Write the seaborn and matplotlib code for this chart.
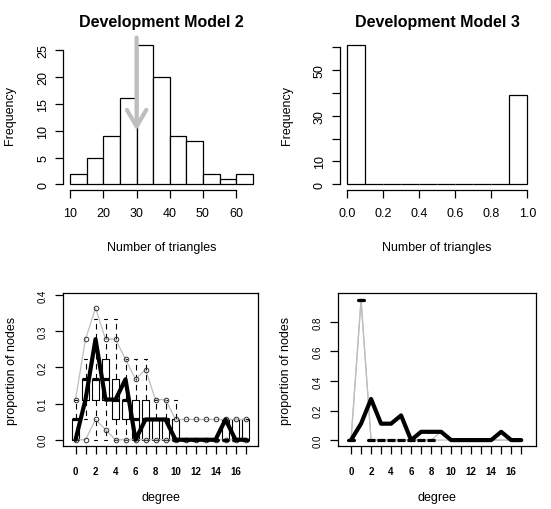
import seaborn as sns
import matplotlib.pyplot as plt

# Top panels: histogram bins and counts
m2_edges = [10, 15, 20, 25, 30, 35, 40, 45, 50, 55, 60, 65]
m2_counts = [2, 5, 9, 16, 26, 20, 9, 8, 2, 1, 2]
m2_arrow_x = 30
m2_arrow_from = 27.3
m2_arrow_to = 10

m3_edges = [0.0, 0.1, 0.2, 0.3, 0.4, 0.5, 0.6, 0.7, 0.8, 0.9, 1.0]
m3_counts = [61, 0, 0, 0, 0, 0, 0, 0, 0, 39]

# Bottom panels: degree distribution goodness of fit
degree = list(range(18))
obs_prop = [0, 0.111, 0.278, 0.111, 0.111, 0.167, 0, 0.056, 0.056, 0.056,
            0, 0, 0, 0, 0, 0.056, 0, 0]

# model 2 simulated boxplot summaries
m2_q1 = [0, 0.111, 0.111, 0.111, 0.056, 0.056, 0, 0, 0, 0, 0, 0, 0, 0, 0, 0, 0, 0]
m2_med = [0.056, 0.167, 0.167, 0.167, 0.111, 0.111, 0.056, 0.056, 0.056, 0.056,
          0, 0, 0, 0, 0, 0, 0, 0]
m2_q3 = [0.056, 0.167, 0.167, 0.222, 0.167, 0.111, 0.111, 0.111, 0.056, 0.056,
         0.056, 0, 0, 0, 0, 0.056, 0.056, 0.056]
m2_whislo = [0, 0.056, 0, 0, 0, 0, 0, 0, 0, 0, 0, 0, 0, 0, 0, 0, 0, 0]
m2_whishi = [0.111, 0.222, 0.333, 0.333, 0.333, 0.222, 0.222, 0.222, 0.111, 0.111,
             0.111, 0, 0, 0, 0, 0.056, 0.056, 0.056]
m2_hi = [0.111, 0.278, 0.364, 0.278, 0.278, 0.222, 0.167, 0.194, 0.111, 0.111,
         0.056, 0.056, 0.056, 0.056, 0.056, 0.056, 0.056, 0.056]
m2_lo = [0, 0, 0.056, 0.028, 0, 0, 0, 0, 0, 0, 0, 0, 0, 0, 0, 0, 0, 0]

# model 3 simulated boxplot summaries (degrees 0..8)
m3_deg = [0, 1, 2, 3, 4, 5, 6, 7, 8]
m3_q1 = [0, 0.95, 0, 0, 0, 0, 0, 0, 0]
m3_med = [0, 0.95, 0, 0, 0, 0, 0, 0, 0]
m3_q3 = [0, 0.95, 0, 0, 0, 0, 0, 0, 0]
m3_whislo = [0, 0.944, 0, 0, 0, 0, 0, 0, 0]
m3_whishi = [0, 0.955, 0, 0, 0, 0, 0, 0, 0]
m3_hi = [0, 0.955, 0, 0, 0, 0, 0, 0, 0, 0.056, 0, 0, 0, 0, 0, 0, 0, 0]
m3_lo = [0, 0.944, 0, 0, 0, 0, 0, 0, 0, 0, 0, 0, 0, 0, 0, 0, 0, 0]

deg_labels = [str(d) if d % 2 == 0 else '' for d in degree]

sns.set_style('ticks', {'axes.edgecolor': 'black', 'xtick.color': 'black',
                        'ytick.color': 'black', 'text.color': 'black',
                        'axes.labelcolor': 'black'})
plt.rcParams['font.family'] = ['Liberation Sans', 'DejaVu Sans']

GRAY = '#BEBEBE'
fig = plt.figure(figsize=(5.51, 5.10), dpi=100)


def hist_panel(rect, edges, counts, title, xlim, ylim, xb, yb, yticks, ylabels, xticks, xlabels):
    ax = fig.add_axes(rect)
    mids = [(a + b) / 2 for a, b in zip(edges[:-1], edges[1:])]
    sns.histplot(x=mids, weights=counts, bins=edges, ax=ax, color='white',
                 edgecolor='black', linewidth=0.9, alpha=1)
    ax.set_xlim(*xlim)
    ax.set_ylim(*ylim)
    sns.despine(ax=ax)
    ax.spines['bottom'].set_bounds(*xb)
    ax.spines['left'].set_bounds(*yb)
    for s in ('bottom', 'left'):
        ax.spines[s].set_linewidth(0.9)
    ax.set_xticks(xticks)
    ax.set_xticklabels(xlabels)
    ax.set_yticks(yticks)
    ax.set_yticklabels(ylabels)
    ax.tick_params(direction='out', length=5.8, width=0.9, labelsize=9)
    ax.tick_params(axis='x', pad=6.5)
    ax.tick_params(axis='y', labelrotation=90, pad=4)
    for t in ax.get_yticklabels():
        t.set_va('center')
    ax.set_title(title, fontsize=11.5, fontweight='bold', pad=9)
    ax.set_xlabel('Number of triangles', fontsize=9)
    ax.set_ylabel('Frequency', fontsize=9)
    ax.xaxis.set_label_coords(0.5, -0.34)
    ax.yaxis.set_label_coords(-0.24, 0.5)
    return ax


ax1 = hist_panel([0.1143, 0.6255, 0.3575, 0.2961], m2_edges, m2_counts,
                 'Development Model 2', (7.8, 67.2), (-1.04, 27.04), (10, 60), (0, 25),
                 [0, 5, 10, 15, 20, 25], ['0', '5', '10', '15', '20', '25'],
                 [10, 20, 30, 40, 50, 60], ['10', '20', '30', '40', '50', '60'])
ax1.annotate('', xy=(m2_arrow_x, m2_arrow_to), xytext=(m2_arrow_x, m2_arrow_from),
             annotation_clip=False,
             arrowprops=dict(arrowstyle='->,head_length=0.6,head_width=0.35',
                             color=GRAY, lw=3, mutation_scale=20,
                             shrinkA=0, shrinkB=0))

ax2 = hist_panel([0.6162, 0.6255, 0.3539, 0.2961], m3_edges, m3_counts,
                 'Development Model 3', (-0.04, 1.04), (-2.44, 63.44), (0, 1), (0, 60),
                 [0, 10, 20, 30, 40, 50, 60], ['0', '10', '', '30', '', '50', ''],
                 [0, 0.2, 0.4, 0.6, 0.8, 1.0], ['0.0', '0.2', '0.4', '0.6', '0.8', '1.0'])


def gof_panel(rect, pos, q1, med, q3, wlo, whi, hi, lo, xlim, ylim, yticks, markers):
    ax = fig.add_axes(rect)
    stats = [dict(q1=a, med=b, q3=c, whislo=d, whishi=e, fliers=[])
             for a, b, c, d, e in zip(q1, med, q3, wlo, whi)]
    ax.bxp(stats, positions=pos, widths=0.73, capwidths=0.37, showfliers=False,
           manage_ticks=False,
           boxprops=dict(color='black', lw=0.8),
           medianprops=dict(color='black', lw=2.3, solid_capstyle='butt'),
           whiskerprops=dict(color='black', lw=0.8, linestyle=(0, (5, 4))),
           capprops=dict(color='black', lw=0.8))
    mk = dict(marker='o', ms=3.3, mfc='none', mec='#333333', mew=0.7) if markers else {}
    sns.lineplot(x=degree, y=hi, ax=ax, color=GRAY, lw=0.9, **mk)
    sns.lineplot(x=degree, y=lo, ax=ax, color=GRAY, lw=0.9, **mk)
    sns.lineplot(x=degree, y=obs_prop, ax=ax, color='black', lw=3)
    ax.set_xlim(*xlim)
    ax.set_ylim(*ylim)
    for s in ax.spines.values():
        s.set_linewidth(0.9)
    ax.set_xticks(degree)
    ax.set_xticklabels(deg_labels, fontweight='bold')
    ax.set_yticks(yticks)
    ax.set_yticklabels(['%.1f' % v for v in yticks])
    ax.tick_params(direction='out', length=5.5, width=0.9, labelsize=7)
    ax.tick_params(axis='x', pad=9)
    ax.tick_params(axis='y', labelrotation=90, pad=5.5)
    for t in ax.get_yticklabels():
        t.set_va('center')
    ax.set_xlabel('degree', fontsize=9)
    ax.set_ylabel('proportion of nodes', fontsize=9)
    ax.xaxis.set_label_coords(0.5, -0.3)
    ax.yaxis.set_label_coords(-0.235, 0.5)
    return ax


gof_panel([0.1149, 0.1241, 0.3528, 0.2988], degree, m2_q1, m2_med, m2_q3,
          m2_whislo, m2_whishi, m2_hi, m2_lo, (-1.22, 18.22), (-0.0165, 0.4047),
          [0.0, 0.1, 0.2, 0.3, 0.4], True)
gof_panel([0.6140, 0.1241, 0.3583, 0.2988], m3_deg, m3_q1, m3_med, m3_q3,
          m3_whislo, m3_whishi, m3_hi, m3_lo, (-1.27, 18.45), (-0.038, 0.993),
          [0.0, 0.2, 0.4, 0.6, 0.8], False)

fig.savefig('out.png', dpi=100)
